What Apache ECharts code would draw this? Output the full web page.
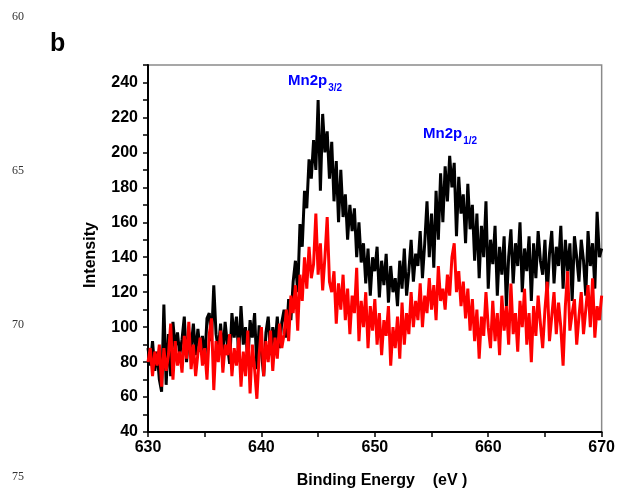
<!DOCTYPE html>
<html>
<head>
<meta charset="utf-8">
<script src="https://cdn.jsdelivr.net/npm/echarts@6/dist/echarts.min.js"></script>
<style>html,body{margin:0;padding:0;background:#fff;}#c{width:618px;height:491px;}</style>
</head>
<body>
<div id="c"></div>
<script>
// Binding energy sampling (eV)
const energyStart = 630;
const energyStep = 0.2;

// Black spectrum (intensity), one value per 0.2 eV from 630 to 670
const blackValues = [
  88, 78, 92, 75, 86,   70, 63, 113, 67, 96,   72, 103, 88, 97, 84,   93, 106, 80, 97, 88,
  102, 84, 99, 86, 95,  80, 105, 108, 92, 124, 96, 87, 102, 84, 103,  90, 79, 108, 94, 106,
  84, 112, 90, 100, 80, 104, 94, 108, 76, 101, 86, 72, 97, 106, 84,   100, 90, 106, 88, 103,
  110, 94, 116, 104, 126, 138, 120, 159, 146, 178, 168, 196, 185, 207, 190, 230, 178, 222, 200, 212,
  185, 206, 172, 195, 160, 190, 163, 176, 150, 170, 155, 168, 140, 160, 137, 148, 125, 145, 118, 140,
  132, 146, 117, 138, 124, 142, 114, 135, 120, 128, 112, 138, 122, 145, 118, 132, 150, 126, 142, 135,
  155, 128, 148, 172, 140, 165, 134, 178, 150, 188, 160, 192, 172, 198, 180, 194, 152, 186, 165, 176,
  148, 182, 156, 170, 138, 165, 128, 158, 140, 172, 122, 150, 136, 158, 118, 146, 130, 152, 112, 140,
  156, 125, 148, 135, 160, 120, 145, 132, 152, 115, 148, 128, 155, 138, 130, 150, 118, 142, 155, 125,
  146, 135, 158, 122, 150, 132, 148, 115, 152, 140, 126, 150, 138, 118, 155, 135, 148, 122, 166, 140,
  145
];

// Red spectrum (intensity)
const redValues = [
  80, 88, 72, 86, 78,   90, 66, 88, 75, 84,   102, 70, 92, 78, 86,   74, 95, 82, 103, 76,
  90, 72, 85, 94, 78,   88, 70, 96, 105, 64,  92, 80, 98, 74, 90,    84, 96, 72, 88, 78,
  94, 66, 86, 72, 98,   62, 90, 76, 59, 84,   100, 72, 92, 80, 98,   75, 94, 82, 102, 88,
  96, 110, 92, 118, 108, 124, 98, 130, 115, 140, 122, 146, 128, 136, 165, 130, 148, 121, 140, 163,
  126, 120, 132, 102, 125, 110, 130, 104, 122, 96, 118, 108, 134, 92, 115, 100, 120, 88, 112, 98,
  116, 90, 108, 84, 104, 95, 112, 78, 100, 88, 106, 82, 114, 90, 108, 96, 120, 100, 115, 104,
  125, 100, 118, 108, 128, 110, 124, 104, 135, 115, 122, 110, 130, 118, 140, 148, 120, 132, 112, 126,
  105, 122, 98, 116, 92, 110, 82, 106, 95, 120, 100, 88, 115, 92, 108, 84, 118, 98, 112, 90,
  125, 96, 108, 86, 115, 100, 122, 90, 108, 80, 112, 95, 118, 102, 88, 110, 126, 92, 106, 120,
  96, 114, 100, 78, 112, 132, 98, 108, 116, 90, 106, 120, 96, 110, 124, 100, 128, 94, 112, 104,
  118
];

// Axis tick labels
const xTickLabels = [630, 640, 650, 660, 670];
const yTickLabels = [40, 60, 80, 100, 120, 140, 160, 180, 200, 220, 240];

// Peak annotations
const peakLabels = [
  { main: 'Mn2p', sub: '3/2' },
  { main: 'Mn2p', sub: '1/2' }
];
// Margin line numbers
const marginNumbers = ['60', '65', '70', '75'];

const toPairs = vals => vals.map((v, i) => [+(energyStart + i * energyStep).toFixed(1), v]);

const chart = echarts.init(document.getElementById('c'), null, { renderer: 'canvas' });
const labelFont = { fontFamily: 'Liberation Sans, Arial, sans-serif', fontWeight: 'bold', color: '#000' };

chart.setOption({
  animation: false,
  backgroundColor: '#fff',
  grid: { left: 148, right: 16, top: 65, bottom: 59, show: true, borderColor: '#8a8a8a', borderWidth: 1.5 },
  xAxis: {
    type: 'value', min: 630, max: 670, interval: 5,
    axisLine: { onZero: false, lineStyle: { color: '#000', width: 2 } },
    axisTick: { length: 5, lineStyle: { color: '#000', width: 1.5 } },
    splitLine: { show: false },
    axisLabel: Object.assign({ fontSize: 16, margin: 8,
      formatter: v => xTickLabels.includes(v) ? String(v) : '' }, labelFont)
  },
  yAxis: {
    type: 'value', min: 40, max: 250, interval: 10,
    axisLine: { show: true, onZero: false, lineStyle: { color: '#000', width: 2 } },
    axisTick: { show: true, length: 5, lineStyle: { color: '#000', width: 1.5 } },
    splitLine: { show: false },
    axisLabel: Object.assign({ fontSize: 16, margin: 10,
      formatter: v => yTickLabels.includes(v) ? String(v) : '' }, labelFont)
  },
  series: [
    { type: 'line', data: toPairs(blackValues), showSymbol: false, symbol: 'none',
      lineStyle: { color: '#000', width: 3 }, z: 2 },
    { type: 'line', data: toPairs(redValues), showSymbol: false, symbol: 'none',
      lineStyle: { color: '#ff0000', width: 3 }, z: 3 }
  ],
  graphic: [
    { type: 'text', left: 50, top: 32, style: { text: 'b', font: 'bold 25px Liberation Sans, Arial, sans-serif', fill: '#000' } },
    { type: 'text', x: 91, y: 255, rotation: Math.PI / 2,
      style: { text: 'Intensity', font: 'bold 16px Liberation Sans, Arial, sans-serif', fill: '#000', align: 'center', verticalAlign: 'middle' } },
    { type: 'text', x: 382, y: 481,
      style: { text: 'Binding Energy    (eV )', font: 'bold 16px Liberation Sans, Arial, sans-serif', fill: '#000', align: 'center', verticalAlign: 'middle' } },
    { type: 'text', left: 288, top: 73, style: {
      text: '{m|' + peakLabels[0].main + '}{s|' + peakLabels[0].sub + '}',
      rich: { m: { font: 'bold 15px Liberation Sans, Arial, sans-serif', fill: '#0000ff' },
              s: { font: 'bold 10px Liberation Sans, Arial, sans-serif', fill: '#0000ff', padding: [16, 0, 0, 1] } } } },
    { type: 'text', left: 423, top: 126, style: {
      text: '{m|' + peakLabels[1].main + '}{s|' + peakLabels[1].sub + '}',
      rich: { m: { font: 'bold 15px Liberation Sans, Arial, sans-serif', fill: '#0000ff' },
              s: { font: 'bold 10px Liberation Sans, Arial, sans-serif', fill: '#0000ff', padding: [16, 0, 0, 1] } } } },
    { type: 'text', left: 12, top: 11, style: { text: marginNumbers[0], font: '12px Liberation Serif, Times New Roman, serif', fill: '#333' } },
    { type: 'text', left: 12, top: 165, style: { text: marginNumbers[1], font: '12px Liberation Serif, Times New Roman, serif', fill: '#333' } },
    { type: 'text', left: 12, top: 319, style: { text: marginNumbers[2], font: '12px Liberation Serif, Times New Roman, serif', fill: '#333' } },
    { type: 'text', left: 12, top: 471, style: { text: marginNumbers[3], font: '12px Liberation Serif, Times New Roman, serif', fill: '#333' } }
  ]
});
</script>
</body>
</html>
